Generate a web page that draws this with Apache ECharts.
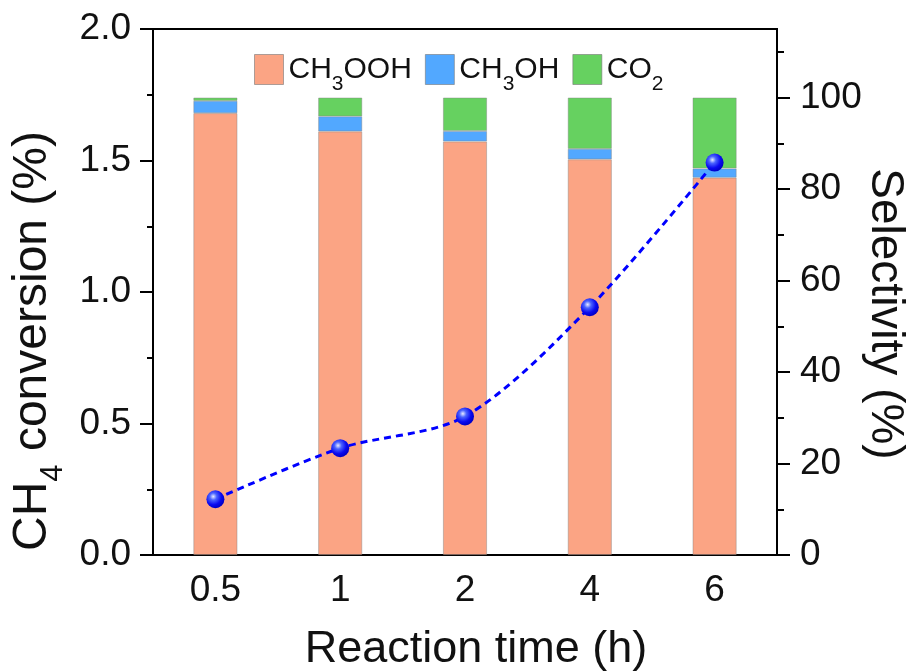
<!DOCTYPE html>
<html>
<head>
<meta charset="utf-8">
<script src="https://cdn.jsdelivr.net/npm/echarts@6/dist/echarts.min.js"></script>
<style>html,body{margin:0;padding:0;background:#fff;}#c{width:912px;height:672px;}</style>
</head>
<body>
<div id="c"></div>
<script>
var categories = ['0.5', '1', '2', '4', '6'];
var ch3oohSel = [96.6, 92.6, 90.4, 86.5, 82.5];
var ch3ohSel = [2.7, 3.3, 2.3, 2.3, 2.0];
var co2Sel = [0.7, 4.1, 7.3, 11.2, 15.5];
var conversion = [0.212, 0.406, 0.527, 0.942, 1.492];
var rightMajorTicks = [0, 20, 40, 60, 80, 100];
var rightMinorTicks = [10, 30, 50, 70, 90, 110];

var FONT = '"Liberation Sans", Arial, sans-serif';
var chart = echarts.init(document.getElementById('c'));

var legendRich = {
  n: { fontSize: 30, lineHeight: 30, verticalAlign: 'top', fontFamily: FONT, color: '#111' },
  s: { fontSize: 21, lineHeight: 21, padding: [19, 0, 0, 0], verticalAlign: 'top', fontFamily: FONT, color: '#111' }
};
var legendNames = {
  'CH3OOH': '{n|CH}{s|3}{n|OOH}',
  'CH3OH': '{n|CH}{s|3}{n|OH}',
  'CO2': '{n|CO}{s|2}'
};

var barBase = { type: 'bar', stack: 'sel', yAxisIndex: 1, barWidth: 44 };
function barSeries(name, data, color) {
  return Object.assign({}, barBase, {
    name: name, data: data,
    itemStyle: { color: color, borderColor: 'rgba(130,130,130,0.55)', borderWidth: 0.8 }
  });
}

chart.setOption({
  animation: false,
  textStyle: { fontFamily: FONT },
  grid: { left: 153, right: 135, top: 29, bottom: 117, outerBoundsMode: 'none', containLabel: false, show: true, borderColor: '#000', borderWidth: 2, backgroundColor: 'transparent' },
  legend: {
    left: 249, top: 49, itemWidth: 29, itemHeight: 30, itemGap: 13,
    selectedMode: false,
    data: ['CH3OOH', 'CH3OH', 'CO2'],
    formatter: function (n) { return legendNames[n]; },
    textStyle: { rich: legendRich },
    icon: 'rect',
    itemStyle: { borderColor: 'rgba(120,120,120,0.6)', borderWidth: 1 }
  },
  xAxis: {
    type: 'category', data: categories,
    axisLine: { lineStyle: { color: '#000', width: 2 } },
    axisTick: { alignWithLabel: true, length: 12, lineStyle: { color: '#000', width: 2 } },
    axisLabel: { fontSize: 37, color: '#111', margin: 17 },
    name: 'Reaction time (h)', nameLocation: 'middle', nameGap: 72, nameMoveOverlap: false,
    nameTextStyle: { fontSize: 45, color: '#111', padding: [0, 0, 0, 22] }
  },
  yAxis: [
    {
      type: 'value', min: 0, max: 2, interval: 0.5, position: 'left',
      axisLine: { show: true, lineStyle: { color: '#000', width: 2 } },
      axisTick: { show: true, length: 13, lineStyle: { color: '#000', width: 2 } },
      minorTick: { show: true, splitNumber: 2, length: 6, lineStyle: { color: '#000', width: 2 } },
      splitLine: { show: false },
      axisLabel: { fontSize: 37, color: '#111', margin: 22, formatter: function (v) { return v.toFixed(1); } },
      name: '{n|CH}{s|4}{n| conversion (%)}', nameLocation: 'middle', nameGap: 96, nameMoveOverlap: false,
      nameTextStyle: {
        padding: [0, 98, 0, 0],
        rich: {
          n: { fontSize: 48, lineHeight: 48, verticalAlign: 'top', color: '#111', fontFamily: FONT },
          s: { fontSize: 31, lineHeight: 31, padding: [29, 0, 0, 0], verticalAlign: 'top', color: '#111', fontFamily: FONT }
        }
      }
    },
    {
      type: 'value', min: 0, max: 115, position: 'right',
      axisLine: { show: true, lineStyle: { color: '#000', width: 2 } },
      axisTick: { show: true, length: 13, customValues: rightMajorTicks, lineStyle: { color: '#000', width: 2 } },
      splitLine: { show: false },
      axisLabel: { fontSize: 37, color: '#111', margin: 23, customValues: rightMajorTicks },
      name: 'Selectivity (%)', nameLocation: 'middle', nameGap: 85, nameRotate: -90, nameMoveOverlap: false,
      nameTextStyle: { fontSize: 46, color: '#111', padding: [0, 0, 0, 44] }
    },
    {
      type: 'value', min: 0, max: 115, position: 'right',
      axisLine: { show: false },
      axisTick: { show: true, length: 7, customValues: rightMinorTicks, lineStyle: { color: '#000', width: 2 } },
      splitLine: { show: false },
      axisLabel: { show: false }
    }
  ],
  series: [
    barSeries('CH3OOH', ch3oohSel, '#FBA484'),
    barSeries('CH3OH', ch3ohSel, '#52A8FF'),
    barSeries('CO2', co2Sel, '#66D160'),
    {
      name: 'Conversion', type: 'line', yAxisIndex: 0, data: conversion,
      smooth: 0.3, z: 5,
      lineStyle: { color: '#0000FF', width: 3, type: [7, 5] },
      symbol: 'circle', symbolSize: 18,
      itemStyle: {
        color: {
          type: 'radial', x: 0.38, y: 0.35, r: 0.65,
          colorStops: [
            { offset: 0, color: '#E8ECFF' },
            { offset: 0.3, color: '#4A63FF' },
            { offset: 0.7, color: '#0A0AF0' },
            { offset: 1, color: '#0000C8' }
          ]
        }
      }
    }
  ]
});
</script>
</body>
</html>
